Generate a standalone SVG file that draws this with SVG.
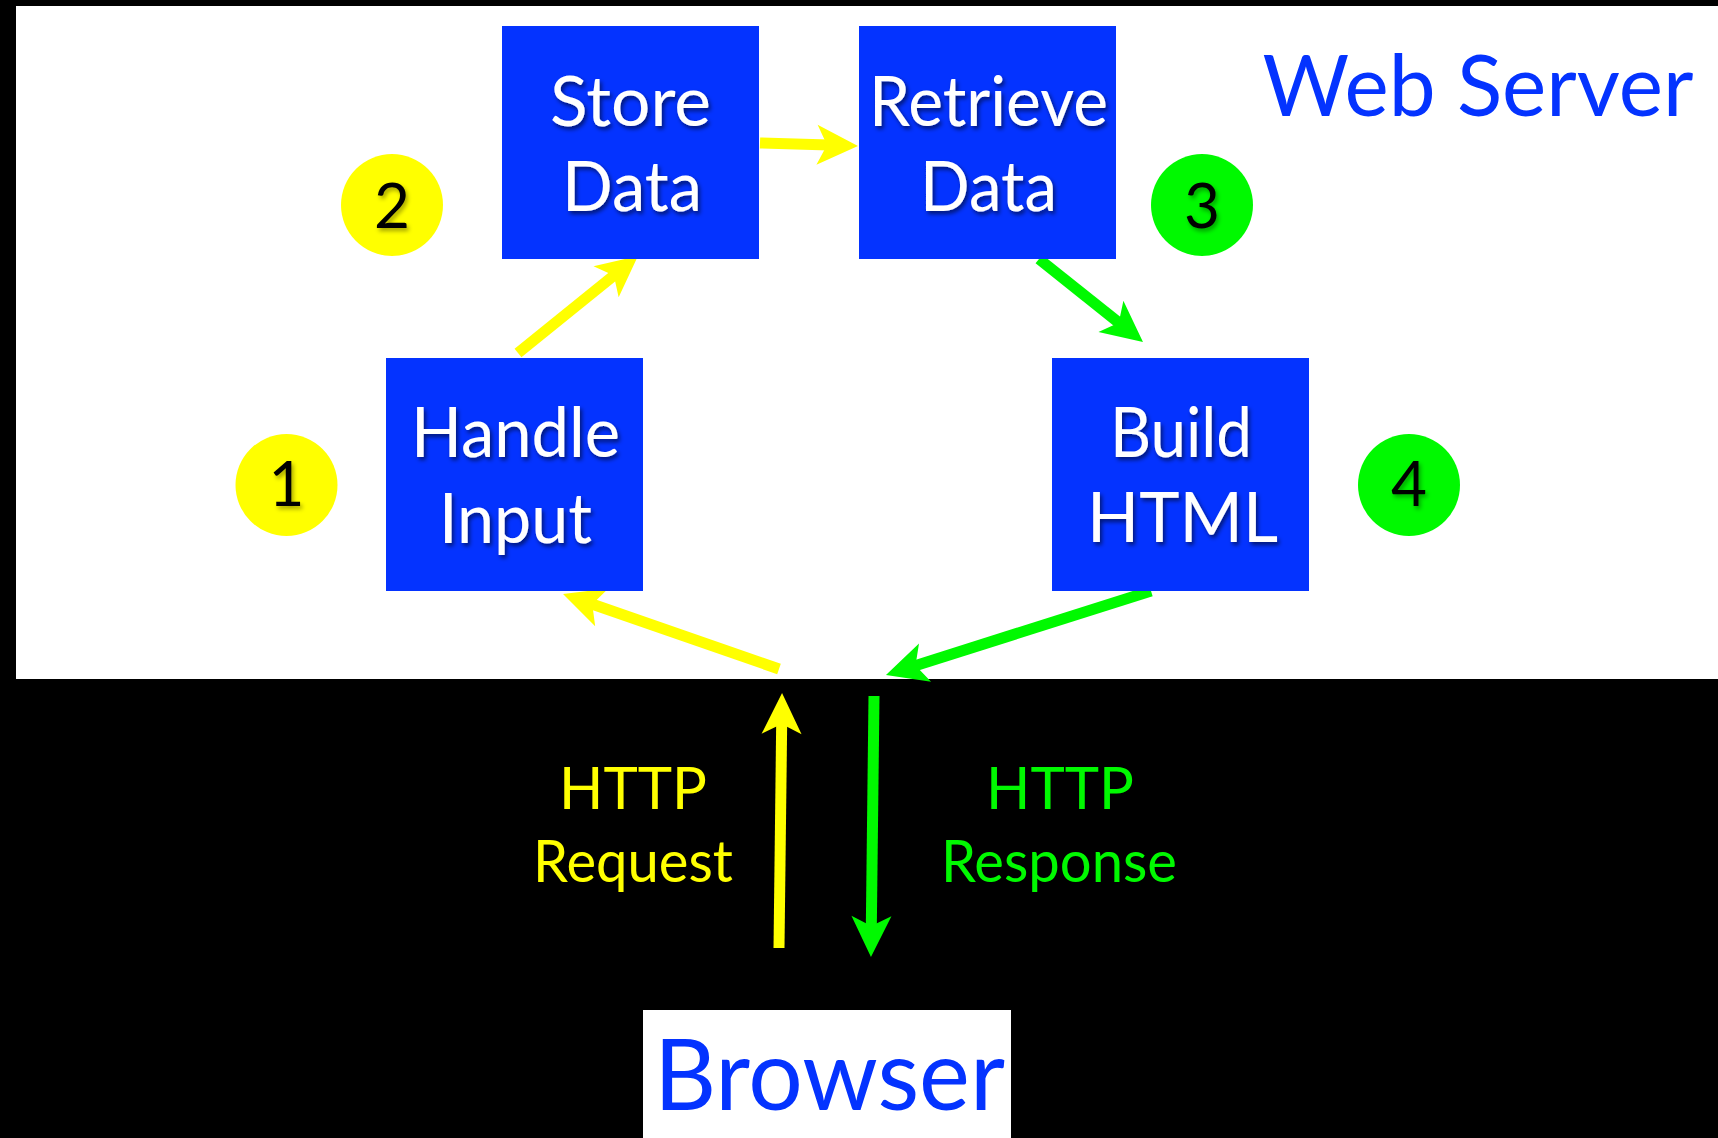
<svg xmlns="http://www.w3.org/2000/svg" width="1718" height="1138" viewBox="0 0 1718 1138">
  <style>
    .box { fill: #0433FF; }
    .bt { font-family: Lato, "Open Sans", "Liberation Sans", sans-serif; font-size: 70px; fill: #FFFFFF; text-anchor: middle; filter: url(#sh); }
    .num { font-family: Lato, "Open Sans", "Liberation Sans", sans-serif; font-size: 62px; fill: #000000; text-anchor: middle; filter: url(#sh2); }
    .y { stroke: #FFFF00; stroke-width: 11; fill: none; }
    .g { stroke: #00F900; stroke-width: 11; fill: none; }
    .lab { font-family: Lato, "Open Sans", "Liberation Sans", sans-serif; font-size: 59px; text-anchor: middle; }
  </style>
  <defs>
    <filter id="sh" x="-10%" y="-20%" width="130%" height="150%">
      <feDropShadow dx="2" dy="3" stdDeviation="2" flood-color="#000000" flood-opacity="0.55"/>
    </filter>
    <filter id="sh2" x="-20%" y="-20%" width="150%" height="150%">
      <feDropShadow dx="2" dy="3" stdDeviation="2" flood-color="#000000" flood-opacity="0.35"/>
    </filter>
    <marker id="ay" markerUnits="userSpaceOnUse" orient="auto" viewBox="-42 -21 44 42" refX="-29" refY="0" markerWidth="44" markerHeight="42" overflow="visible">
      <path d="M0,0 L-41,-20 L-31,0 L-41,20 Z" fill="#FFFF00"/>
    </marker>
    <marker id="ag" markerUnits="userSpaceOnUse" orient="auto" viewBox="-42 -21 44 42" refX="-29" refY="0" markerWidth="44" markerHeight="42" overflow="visible">
      <path d="M0,0 L-41,-20 L-31,0 L-41,20 Z" fill="#00F900"/>
    </marker>
  </defs>

  <rect x="0" y="0" width="1718" height="1138" fill="#000000"/>
  <rect x="16" y="6" width="1702" height="673" fill="#FFFFFF"/>

  <g id="web-server-label">
    <text x="1478" y="116" font-family="Lato, 'Open Sans', 'Liberation Sans', sans-serif" font-size="86" fill="#0433FF" text-anchor="middle" textLength="431" lengthAdjust="spacingAndGlyphs">Web Server</text>
  </g>

  <g id="connectors">
    <path class="y" d="M518,353 L615.4,274.2" marker-end="url(#ay)"/>
    <path class="y" d="M760,143 L829,145.1" marker-end="url(#ay)"/>
    <path class="y" d="M779,669 L590.4,603.5" marker-end="url(#ay)"/>
    <path class="y" d="M779,948 L781.7,722" marker-end="url(#ay)"/>
    <path class="g" d="M1039,259 L1120.3,323.9" marker-end="url(#ag)"/>
    <path class="g" d="M1151,591 L913.6,666.2" marker-end="url(#ag)"/>
    <path class="g" d="M874,696 L871.3,928" marker-end="url(#ag)"/>
  </g>

  <g id="store-data">
    <rect class="box" x="502" y="26" width="257" height="233"/>
    <text class="bt" x="630.5" y="126" textLength="161" lengthAdjust="spacingAndGlyphs">Store</text>
    <text class="bt" x="632" y="211" textLength="140" lengthAdjust="spacingAndGlyphs">Data</text>
  </g>

  <g id="retrieve-data">
    <rect class="box" x="859" y="26" width="257" height="233"/>
    <text class="bt" x="988.5" y="126" textLength="239" lengthAdjust="spacingAndGlyphs">Retrieve</text>
    <text class="bt" x="988.5" y="211" textLength="137" lengthAdjust="spacingAndGlyphs">Data</text>
  </g>

  <g id="handle-input">
    <rect class="box" x="386" y="358" width="257" height="233"/>
    <text class="bt" x="515.5" y="457" textLength="209" lengthAdjust="spacingAndGlyphs">Handle</text>
    <text class="bt" x="515.5" y="543" textLength="153" lengthAdjust="spacingAndGlyphs">Input</text>
  </g>

  <g id="build-html">
    <rect class="box" x="1052" y="358" width="257" height="233"/>
    <text class="bt" x="1181" y="457" textLength="142" lengthAdjust="spacingAndGlyphs">Build</text>
    <text class="bt" x="1182.5" y="542" textLength="191" lengthAdjust="spacingAndGlyphs">HTML</text>
  </g>

  <g id="step-1">
    <circle cx="286.5" cy="485" r="51" fill="#FFFF00"/>
    <text class="num" x="286.5" y="506">1</text>
  </g>
  <g id="step-2">
    <circle cx="392" cy="205" r="51" fill="#FFFF00"/>
    <text class="num" x="392" y="228">2</text>
  </g>
  <g id="step-3">
    <circle cx="1202" cy="205" r="51" fill="#00F900"/>
    <text class="num" x="1202" y="228">3</text>
  </g>
  <g id="step-4">
    <circle cx="1409" cy="485" r="51" fill="#00F900"/>
    <text class="num" x="1409" y="506">4</text>
  </g>

  <g id="http-request">
    <text class="lab" x="633" y="809" fill="#FFFF00" textLength="148" lengthAdjust="spacingAndGlyphs">HTTP</text>
    <text class="lab" x="633" y="882" fill="#FFFF00" textLength="200" lengthAdjust="spacingAndGlyphs">Request</text>
  </g>

  <g id="http-response">
    <text class="lab" x="1060" y="809" fill="#00F900" textLength="148" lengthAdjust="spacingAndGlyphs">HTTP</text>
    <text class="lab" x="1059" y="882" fill="#00F900" textLength="236" lengthAdjust="spacingAndGlyphs">Response</text>
  </g>

  <g id="browser">
    <rect x="643" y="1010" width="368" height="128" fill="#FFFFFF"/>
    <text x="829.5" y="1110" font-family="Lato, 'Open Sans', 'Liberation Sans', sans-serif" font-size="99" fill="#0433FF" text-anchor="middle" textLength="351" lengthAdjust="spacingAndGlyphs">Browser</text>
  </g>
</svg>
